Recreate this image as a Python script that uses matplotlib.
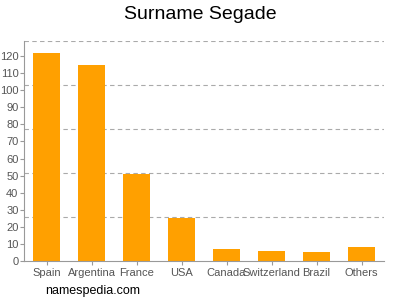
import numpy as np
import matplotlib.pyplot as plt

plt.rcParams["font.family"] = ["Liberation Sans", "DejaVu Sans"]

countries = ["Spain", "Argentina", "France", "USA", "Canada", "Switzerland", "Brazil", "Others"]
counts = [122, 115, 51, 25, 7, 6, 5, 8]
yticks = list(range(0, 121, 10))

fig = plt.figure(figsize=(4, 3), dpi=100)
ax = fig.add_axes([0.06, 0.13, 0.9, 0.733])

x = np.arange(len(countries))
ax.bar(x, counts, width=0.62, color="#ffa000", zorder=2)

ymax = 128.75
ax.set_ylim(0, ymax)
ax.set_xlim(-0.5, len(countries) - 0.5)
for g in np.linspace(0, ymax, 6)[1:]:
    ax.axhline(g, color="#aaaaaa", linestyle=(0, (4, 3)), linewidth=0.8, zorder=1)

ax.set_yticks(yticks)
ax.set_xticks(x)
ax.set_xticklabels(countries)
ax.tick_params(axis="both", colors="#999999", labelcolor="#555555", labelsize=8,
               length=3, width=0.8)
ax.tick_params(axis="x", pad=2)
ax.tick_params(axis="y", pad=1)

for s in ["top", "right"]:
    ax.spines[s].set_visible(False)
for s in ["left", "bottom"]:
    ax.spines[s].set_color("#999999")
    ax.spines[s].set_linewidth(0.8)

fig.text(0.5, 0.952, "Surname Segade", ha="center", va="center", fontsize=14)
fig.text(0.113, 0.03, "namespedia.com", ha="left", va="center", fontsize=9)

fig.savefig("out.png", dpi=100)
